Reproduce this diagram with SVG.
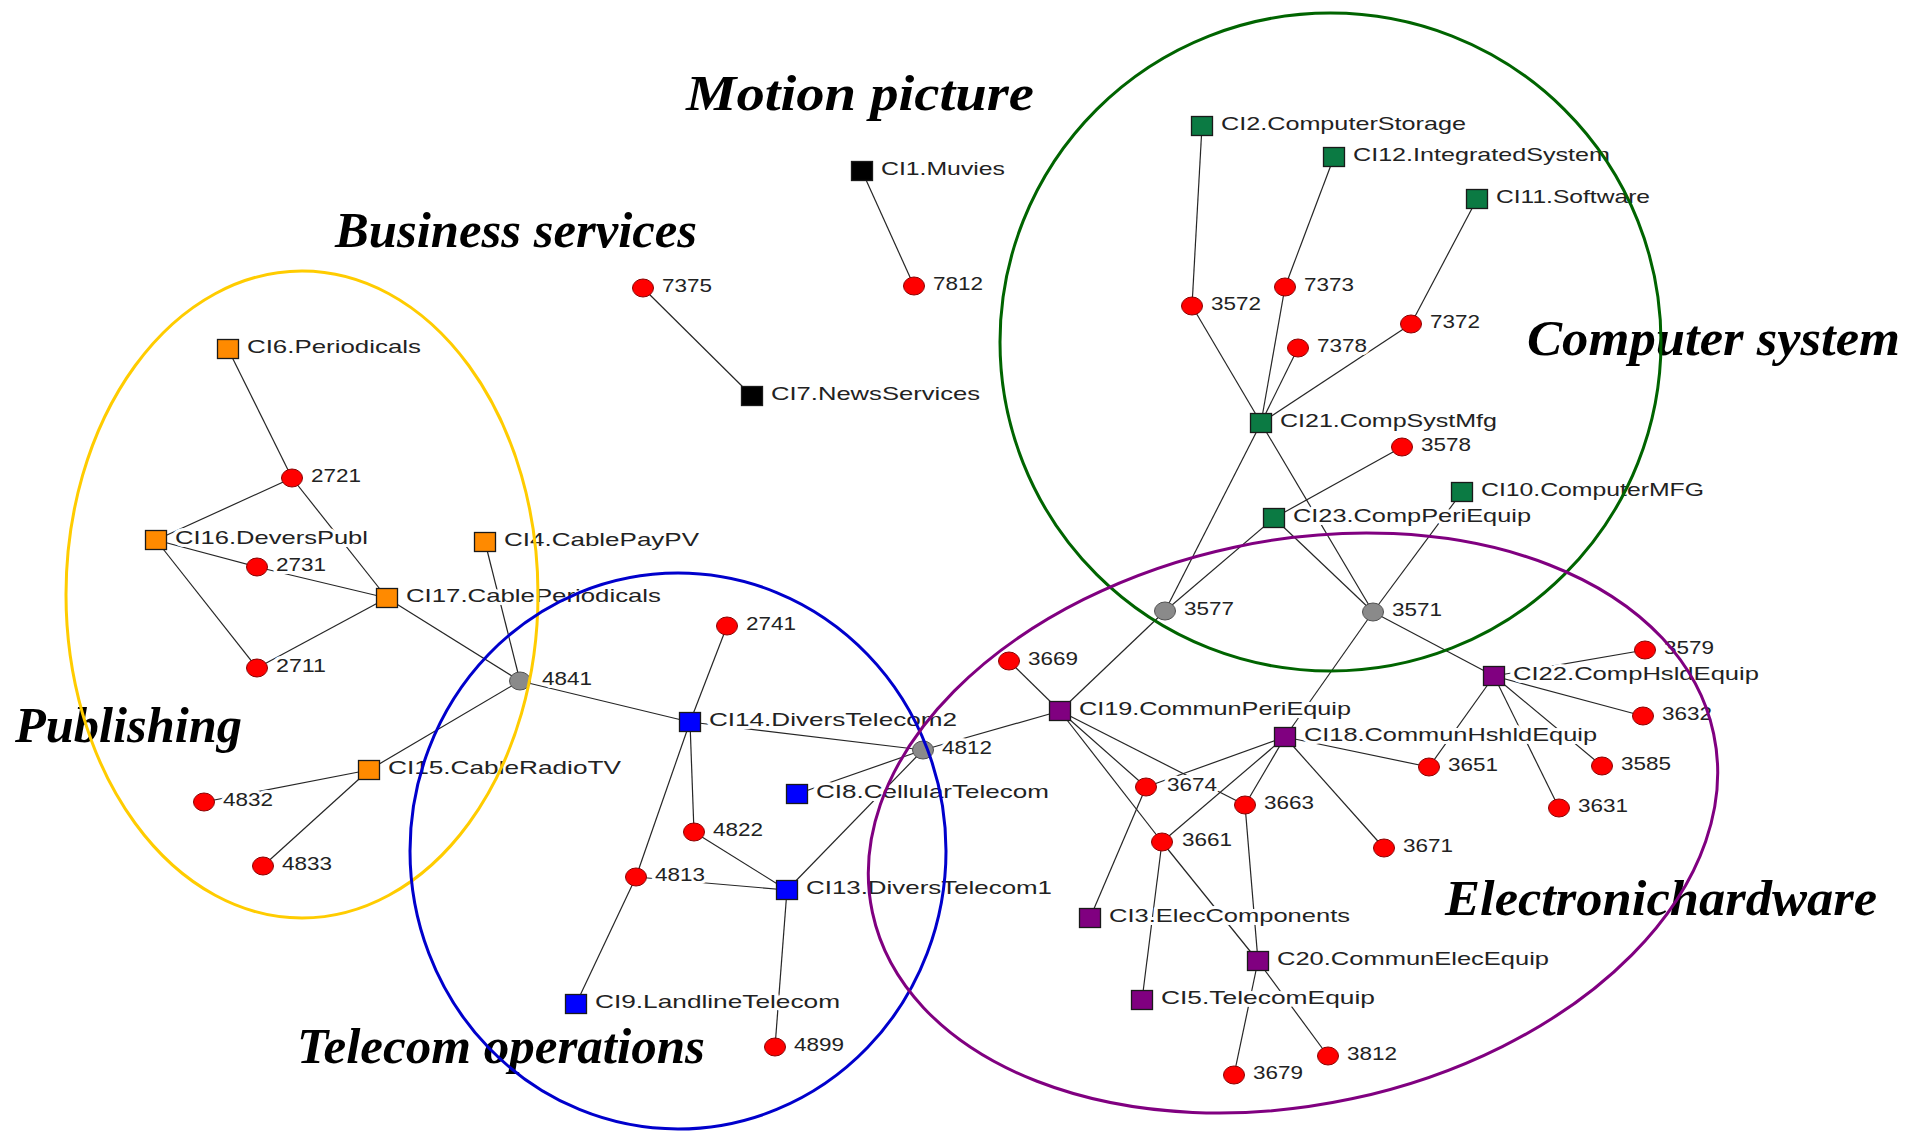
<svg xmlns="http://www.w3.org/2000/svg" xmlns:xlink="http://www.w3.org/1999/xlink" width="1919" height="1133" viewBox="0 0 1919 1133">
<style>
  .edges line { stroke:#262626; stroke-width:1.2; }
  .sq { stroke:#1a1a1a; stroke-width:1.3; }
  .org { fill:#FF8A00; }
  .blu { fill:#0000FF; }
  .grn { fill:#0B7A43; }
  .pur { fill:#800080; }
  .blk { fill:#000000; }
  .dot { fill:#FF0000; stroke:#8B0000; stroke-width:1; }
  .hub { fill:#8A8A8A; stroke:#505050; stroke-width:1; }
  .lbl { font-family:"Liberation Sans", Arial, sans-serif; font-size:19px; fill:#222222;
         stroke:#ffffff; stroke-width:6; stroke-linejoin:round; paint-order:stroke; }
  .title { font-family:"Liberation Serif", "Times New Roman", serif; font-weight:bold;
           font-style:italic; font-size:50px; fill:#000000; }
  .region { fill:none; stroke-width:3; }
</style>
<defs>
  <rect id="sq" x="-10.5" y="-9.5" width="21" height="19"/>
  <ellipse id="dot" rx="10.5" ry="9"/>
</defs>
<rect width="1919" height="1133" fill="#ffffff"/>

<!-- connectors -->
<g id="edges" class="edges">
  <line x1="862" y1="171" x2="914" y2="286"/>
  <line x1="643" y1="288" x2="752" y2="396"/>
  <line x1="228" y1="349" x2="292" y2="478"/>
  <line x1="292" y1="478" x2="156" y2="540"/>
  <line x1="292" y1="478" x2="387" y2="598"/>
  <line x1="156" y1="540" x2="257" y2="567"/>
  <line x1="257" y1="567" x2="387" y2="598"/>
  <line x1="156" y1="540" x2="257" y2="668"/>
  <line x1="257" y1="668" x2="387" y2="598"/>
  <line x1="387" y1="598" x2="520" y2="681"/>
  <line x1="485" y1="542" x2="520" y2="681"/>
  <line x1="520" y1="681" x2="369" y2="770"/>
  <line x1="369" y1="770" x2="204" y2="802"/>
  <line x1="369" y1="770" x2="263" y2="866"/>
  <line x1="520" y1="681" x2="690" y2="722"/>
  <line x1="690" y1="722" x2="727" y2="626"/>
  <line x1="690" y1="722" x2="923" y2="750"/>
  <line x1="690" y1="722" x2="694" y2="832"/>
  <line x1="690" y1="722" x2="636" y2="877"/>
  <line x1="694" y1="832" x2="787" y2="890"/>
  <line x1="636" y1="877" x2="787" y2="890"/>
  <line x1="787" y1="890" x2="923" y2="750"/>
  <line x1="797" y1="794" x2="923" y2="750"/>
  <line x1="636" y1="877" x2="576" y2="1004"/>
  <line x1="787" y1="890" x2="775" y2="1047"/>
  <line x1="923" y1="750" x2="1060" y2="711"/>
  <line x1="1202" y1="126" x2="1192" y2="306"/>
  <line x1="1192" y1="306" x2="1261" y2="423"/>
  <line x1="1334" y1="157" x2="1285" y2="287"/>
  <line x1="1285" y1="287" x2="1261" y2="423"/>
  <line x1="1477" y1="199" x2="1411" y2="324"/>
  <line x1="1411" y1="324" x2="1261" y2="423"/>
  <line x1="1298" y1="348" x2="1261" y2="423"/>
  <line x1="1261" y1="423" x2="1165" y2="611"/>
  <line x1="1261" y1="423" x2="1373" y2="612"/>
  <line x1="1402" y1="447" x2="1274" y2="518"/>
  <line x1="1274" y1="518" x2="1165" y2="611"/>
  <line x1="1274" y1="518" x2="1373" y2="612"/>
  <line x1="1462" y1="492" x2="1373" y2="612"/>
  <line x1="1165" y1="611" x2="1060" y2="711"/>
  <line x1="1373" y1="612" x2="1285" y2="737"/>
  <line x1="1373" y1="612" x2="1494" y2="676"/>
  <line x1="1009" y1="661" x2="1060" y2="711"/>
  <line x1="1060" y1="711" x2="1146" y2="787"/>
  <line x1="1060" y1="711" x2="1245" y2="805"/>
  <line x1="1060" y1="711" x2="1162" y2="842"/>
  <line x1="1162" y1="842" x2="1258" y2="961"/>
  <line x1="1146" y1="787" x2="1090" y2="918"/>
  <line x1="1162" y1="842" x2="1142" y2="1000"/>
  <line x1="1285" y1="737" x2="1146" y2="787"/>
  <line x1="1285" y1="737" x2="1162" y2="842"/>
  <line x1="1285" y1="737" x2="1245" y2="805"/>
  <line x1="1245" y1="805" x2="1258" y2="961"/>
  <line x1="1285" y1="737" x2="1384" y2="848"/>
  <line x1="1285" y1="737" x2="1429" y2="767"/>
  <line x1="1494" y1="676" x2="1645" y2="650"/>
  <line x1="1494" y1="676" x2="1643" y2="716"/>
  <line x1="1494" y1="676" x2="1602" y2="766"/>
  <line x1="1494" y1="676" x2="1559" y2="808"/>
  <line x1="1494" y1="676" x2="1429" y2="767"/>
  <line x1="1258" y1="961" x2="1234" y2="1075"/>
  <line x1="1258" y1="961" x2="1328" y2="1056"/>
</g>

<!-- motion picture / business services -->
<g id="n-CI1"><use href="#sq" class="sq blk" x="862" y="171"/><text class="lbl" x="881" y="175" textLength="124" lengthAdjust="spacingAndGlyphs">CI1.Muvies</text></g>
<g id="n-7812"><use href="#dot" class="dot" x="914" y="286"/><text class="lbl" x="933" y="290" textLength="50" lengthAdjust="spacingAndGlyphs">7812</text></g>
<g id="n-7375"><use href="#dot" class="dot" x="643" y="288"/><text class="lbl" x="662" y="292" textLength="50" lengthAdjust="spacingAndGlyphs">7375</text></g>
<g id="n-CI7"><use href="#sq" class="sq blk" x="752" y="396"/><text class="lbl" x="771" y="400" textLength="209" lengthAdjust="spacingAndGlyphs">CI7.NewsServices</text></g>

<!-- publishing -->
<g id="n-CI6"><use href="#sq" class="sq org" x="228" y="349"/><text class="lbl" x="247" y="353" textLength="174" lengthAdjust="spacingAndGlyphs">CI6.Periodicals</text></g>
<g id="n-2721"><use href="#dot" class="dot" x="292" y="478"/><text class="lbl" x="311" y="482" textLength="50" lengthAdjust="spacingAndGlyphs">2721</text></g>
<g id="n-CI16"><use href="#sq" class="sq org" x="156" y="540"/><text class="lbl" x="175" y="544" textLength="193" lengthAdjust="spacingAndGlyphs">CI16.DeversPubl</text></g>
<g id="n-2731"><use href="#dot" class="dot" x="257" y="567"/><text class="lbl" x="276" y="571" textLength="50" lengthAdjust="spacingAndGlyphs">2731</text></g>
<g id="n-CI17"><use href="#sq" class="sq org" x="387" y="598"/><text class="lbl" x="406" y="602" textLength="255" lengthAdjust="spacingAndGlyphs">CI17.CablePeriodicals</text></g>
<g id="n-2711"><use href="#dot" class="dot" x="257" y="668"/><text class="lbl" x="276" y="672" textLength="50" lengthAdjust="spacingAndGlyphs">2711</text></g>
<g id="n-CI4"><use href="#sq" class="sq org" x="485" y="542"/><text class="lbl" x="504" y="546" textLength="195" lengthAdjust="spacingAndGlyphs">CI4.CablePayPV</text></g>
<g id="n-4841"><use href="#dot" class="hub" x="520" y="681"/><text class="lbl" x="542" y="685" textLength="50" lengthAdjust="spacingAndGlyphs">4841</text></g>
<g id="n-CI15"><use href="#sq" class="sq org" x="369" y="770"/><text class="lbl" x="388" y="774" textLength="233" lengthAdjust="spacingAndGlyphs">CI15.CableRadioTV</text></g>
<g id="n-4832"><use href="#dot" class="dot" x="204" y="802"/><text class="lbl" x="223" y="806" textLength="50" lengthAdjust="spacingAndGlyphs">4832</text></g>
<g id="n-4833"><use href="#dot" class="dot" x="263" y="866"/><text class="lbl" x="282" y="870" textLength="50" lengthAdjust="spacingAndGlyphs">4833</text></g>

<!-- telecom operations -->
<g id="n-2741"><use href="#dot" class="dot" x="727" y="626"/><text class="lbl" x="746" y="630" textLength="50" lengthAdjust="spacingAndGlyphs">2741</text></g>
<g id="n-CI14"><use href="#sq" class="sq blu" x="690" y="722"/><text class="lbl" x="709" y="726" textLength="248" lengthAdjust="spacingAndGlyphs">CI14.DiversTelecom2</text></g>
<g id="n-4812"><use href="#dot" class="hub" x="923" y="750"/><text class="lbl" x="942" y="754" textLength="50" lengthAdjust="spacingAndGlyphs">4812</text></g>
<g id="n-CI8"><use href="#sq" class="sq blu" x="797" y="794"/><text class="lbl" x="816" y="798" textLength="233" lengthAdjust="spacingAndGlyphs">CI8.CellularTelecom</text></g>
<g id="n-4822"><use href="#dot" class="dot" x="694" y="832"/><text class="lbl" x="713" y="836" textLength="50" lengthAdjust="spacingAndGlyphs">4822</text></g>
<g id="n-4813"><use href="#dot" class="dot" x="636" y="877"/><text class="lbl" x="655" y="881" textLength="50" lengthAdjust="spacingAndGlyphs">4813</text></g>
<g id="n-CI13"><use href="#sq" class="sq blu" x="787" y="890"/><text class="lbl" x="806" y="894" textLength="246" lengthAdjust="spacingAndGlyphs">CI13.DiversTelecom1</text></g>
<g id="n-CI9"><use href="#sq" class="sq blu" x="576" y="1004"/><text class="lbl" x="595" y="1008" textLength="245" lengthAdjust="spacingAndGlyphs">CI9.LandlineTelecom</text></g>
<g id="n-4899"><use href="#dot" class="dot" x="775" y="1047"/><text class="lbl" x="794" y="1051" textLength="50" lengthAdjust="spacingAndGlyphs">4899</text></g>

<!-- computer system -->
<g id="n-CI2"><use href="#sq" class="sq grn" x="1202" y="126"/><text class="lbl" x="1221" y="130" textLength="245" lengthAdjust="spacingAndGlyphs">CI2.ComputerStorage</text></g>
<g id="n-CI12"><use href="#sq" class="sq grn" x="1334" y="157"/><text class="lbl" x="1353" y="161" textLength="257" lengthAdjust="spacingAndGlyphs">CI12.IntegratedSystem</text></g>
<g id="n-CI11"><use href="#sq" class="sq grn" x="1477" y="199"/><text class="lbl" x="1496" y="203" textLength="154" lengthAdjust="spacingAndGlyphs">CI11.Software</text></g>
<g id="n-3572"><use href="#dot" class="dot" x="1192" y="306"/><text class="lbl" x="1211" y="310" textLength="50" lengthAdjust="spacingAndGlyphs">3572</text></g>
<g id="n-7373"><use href="#dot" class="dot" x="1285" y="287"/><text class="lbl" x="1304" y="291" textLength="50" lengthAdjust="spacingAndGlyphs">7373</text></g>
<g id="n-7372"><use href="#dot" class="dot" x="1411" y="324"/><text class="lbl" x="1430" y="328" textLength="50" lengthAdjust="spacingAndGlyphs">7372</text></g>
<g id="n-7378"><use href="#dot" class="dot" x="1298" y="348"/><text class="lbl" x="1317" y="352" textLength="50" lengthAdjust="spacingAndGlyphs">7378</text></g>
<g id="n-CI21"><use href="#sq" class="sq grn" x="1261" y="423"/><text class="lbl" x="1280" y="427" textLength="217" lengthAdjust="spacingAndGlyphs">CI21.CompSystMfg</text></g>
<g id="n-3578"><use href="#dot" class="dot" x="1402" y="447"/><text class="lbl" x="1421" y="451" textLength="50" lengthAdjust="spacingAndGlyphs">3578</text></g>
<g id="n-CI10"><use href="#sq" class="sq grn" x="1462" y="492"/><text class="lbl" x="1481" y="496" textLength="223" lengthAdjust="spacingAndGlyphs">CI10.ComputerMFG</text></g>
<g id="n-CI23"><use href="#sq" class="sq grn" x="1274" y="518"/><text class="lbl" x="1293" y="522" textLength="238" lengthAdjust="spacingAndGlyphs">CI23.CompPeriEquip</text></g>
<g id="n-3577"><use href="#dot" class="hub" x="1165" y="611"/><text class="lbl" x="1184" y="615" textLength="50" lengthAdjust="spacingAndGlyphs">3577</text></g>
<g id="n-3571"><use href="#dot" class="hub" x="1373" y="612"/><text class="lbl" x="1392" y="616" textLength="50" lengthAdjust="spacingAndGlyphs">3571</text></g>

<!-- electronic hardware -->
<g id="n-3669"><use href="#dot" class="dot" x="1009" y="661"/><text class="lbl" x="1028" y="665" textLength="50" lengthAdjust="spacingAndGlyphs">3669</text></g>
<g id="n-CI19"><use href="#sq" class="sq pur" x="1060" y="711"/><text class="lbl" x="1079" y="715" textLength="272" lengthAdjust="spacingAndGlyphs">CI19.CommunPeriEquip</text></g>
<g id="n-CI22"><use href="#sq" class="sq pur" x="1494" y="676"/><text class="lbl" x="1513" y="680" textLength="246" lengthAdjust="spacingAndGlyphs">CI22.CompHsldEquip</text></g>
<g id="n-3579"><use href="#dot" class="dot" x="1645" y="650"/><text class="lbl" x="1664" y="654" textLength="50" lengthAdjust="spacingAndGlyphs">3579</text></g>
<g id="n-3632"><use href="#dot" class="dot" x="1643" y="716"/><text class="lbl" x="1662" y="720" textLength="50" lengthAdjust="spacingAndGlyphs">3632</text></g>
<g id="n-CI18"><use href="#sq" class="sq pur" x="1285" y="737"/><text class="lbl" x="1304" y="741" textLength="293" lengthAdjust="spacingAndGlyphs">CI18.CommunHshldEquip</text></g>
<g id="n-3651"><use href="#dot" class="dot" x="1429" y="767"/><text class="lbl" x="1448" y="771" textLength="50" lengthAdjust="spacingAndGlyphs">3651</text></g>
<g id="n-3585"><use href="#dot" class="dot" x="1602" y="766"/><text class="lbl" x="1621" y="770" textLength="50" lengthAdjust="spacingAndGlyphs">3585</text></g>
<g id="n-3631"><use href="#dot" class="dot" x="1559" y="808"/><text class="lbl" x="1578" y="812" textLength="50" lengthAdjust="spacingAndGlyphs">3631</text></g>
<g id="n-3674"><use href="#dot" class="dot" x="1146" y="787"/><text class="lbl" x="1167" y="791" textLength="50" lengthAdjust="spacingAndGlyphs">3674</text></g>
<g id="n-3663"><use href="#dot" class="dot" x="1245" y="805"/><text class="lbl" x="1264" y="809" textLength="50" lengthAdjust="spacingAndGlyphs">3663</text></g>
<g id="n-3661"><use href="#dot" class="dot" x="1162" y="842"/><text class="lbl" x="1182" y="846" textLength="50" lengthAdjust="spacingAndGlyphs">3661</text></g>
<g id="n-3671"><use href="#dot" class="dot" x="1384" y="848"/><text class="lbl" x="1403" y="852" textLength="50" lengthAdjust="spacingAndGlyphs">3671</text></g>
<g id="n-CI3"><use href="#sq" class="sq pur" x="1090" y="918"/><text class="lbl" x="1109" y="922" textLength="241" lengthAdjust="spacingAndGlyphs">CI3.ElecComponents</text></g>
<g id="n-C20"><use href="#sq" class="sq pur" x="1258" y="961"/><text class="lbl" x="1277" y="965" textLength="272" lengthAdjust="spacingAndGlyphs">C20.CommunElecEquip</text></g>
<g id="n-CI5"><use href="#sq" class="sq pur" x="1142" y="1000"/><text class="lbl" x="1161" y="1004" textLength="214" lengthAdjust="spacingAndGlyphs">CI5.TelecomEquip</text></g>
<g id="n-3812"><use href="#dot" class="dot" x="1328" y="1056"/><text class="lbl" x="1347" y="1060" textLength="50" lengthAdjust="spacingAndGlyphs">3812</text></g>
<g id="n-3679"><use href="#dot" class="dot" x="1234" y="1075"/><text class="lbl" x="1253" y="1079" textLength="50" lengthAdjust="spacingAndGlyphs">3679</text></g>

<!-- sector titles -->
<g id="titles">
  <text class="title" x="686" y="110" textLength="348" lengthAdjust="spacingAndGlyphs">Motion picture</text>
  <text class="title" x="335" y="247" textLength="362" lengthAdjust="spacingAndGlyphs">Business services</text>
  <text class="title" x="1527" y="355" textLength="373" lengthAdjust="spacingAndGlyphs">Computer system</text>
  <text class="title" x="15" y="742" textLength="227" lengthAdjust="spacingAndGlyphs">Publishing</text>
  <text class="title" x="297" y="1063" textLength="408" lengthAdjust="spacingAndGlyphs">Telecom operations</text>
  <text class="title" x="1445" y="915" textLength="432" lengthAdjust="spacingAndGlyphs">Electronichardware</text>
</g>

<!-- sector outlines -->
<g id="regions">
  <ellipse class="region" cx="302" cy="594.5" rx="236" ry="323.5" stroke="#FFCC00"/>
  <ellipse class="region" cx="678" cy="851" rx="268" ry="278" stroke="#0000CC" stroke-width="2.5"/>
  <ellipse class="region" cx="1330.5" cy="342" rx="330.5" ry="329" stroke="#006400" stroke-width="2.5"/>
  <ellipse class="region" cx="0" cy="0" rx="430" ry="282" stroke="#800080" transform="translate(1293 823) rotate(-12)"/>
</g>
</svg>
